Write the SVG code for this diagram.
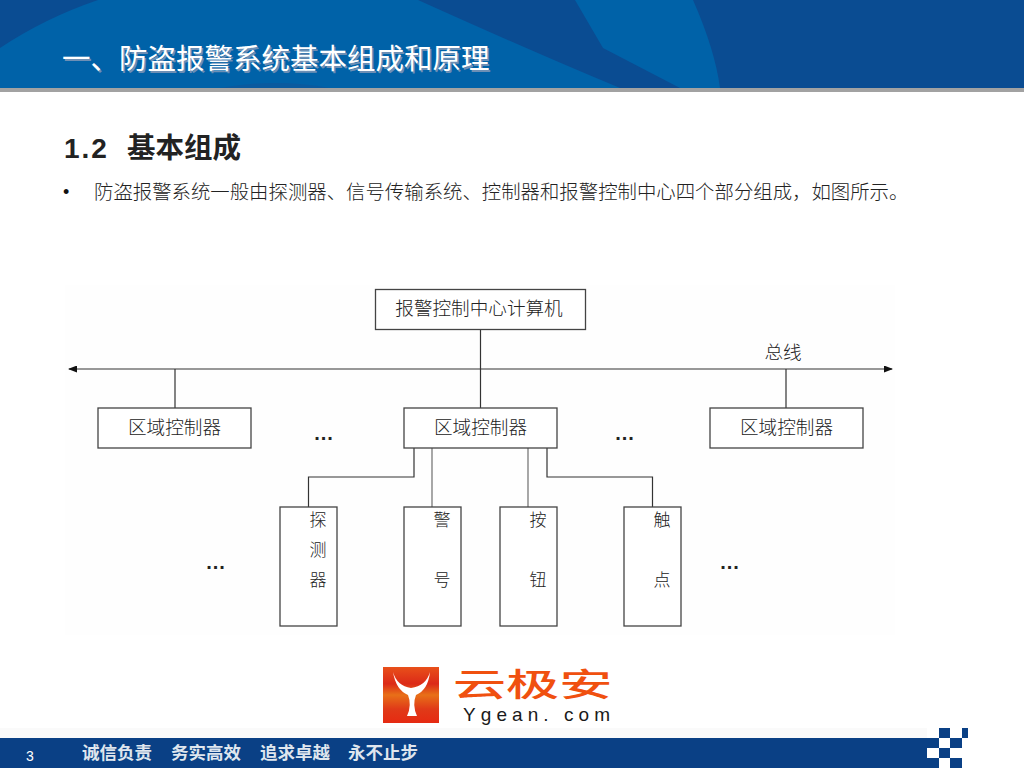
<svg xmlns="http://www.w3.org/2000/svg" width="1024" height="768" viewBox="0 0 1024 768">
<defs>
<linearGradient id="logo" x1="0" y1="0" x2="0" y2="1"><stop offset="0" stop-color="#e8501a"/><stop offset="0.3" stop-color="#dc2a18"/><stop offset="0.5" stop-color="#e87018"/><stop offset="0.75" stop-color="#e03a18"/><stop offset="1" stop-color="#e62a12"/></linearGradient>
<marker id="ah" markerWidth="9" markerHeight="7" refX="8" refY="3.5" orient="auto-start-reverse" markerUnits="userSpaceOnUse"><path d="M0 0L9 3.5L0 7Z" fill="#111"/></marker>
</defs>
<style>
text{font-family:"Noto Sans CJK SC","Liberation Sans",sans-serif}
.box{fill:#fff;stroke:#444;stroke-width:1.3}
.lbl{font-size:18.6px;fill:#222;text-anchor:middle;font-weight:300}
.v{font-size:17px;fill:#222;text-anchor:middle;font-weight:300}
.dots{font-family:"Liberation Sans",sans-serif;font-size:20px;font-weight:700;fill:#222;letter-spacing:1px;text-anchor:middle}
.c{fill:none;stroke:#333;stroke-width:1.2}
.foot{font-size:17.5px;font-weight:700;fill:#dfe6ee}
.chk{fill:#0a4085}
</style>
<rect width="1024" height="768" fill="#fff"/>
<rect x="65" y="285" width="830" height="350" fill="#fefefe"/>
<g id="banner">
<rect width="1024" height="88" fill="#0a4c92"/>
<path d="M0 48Q45 18 98 0H418Q540 55 620 88H0Z" fill="#0062a8"/>
<path d="M575 0H693Q715 50 720 88H680L603 48Z" fill="#0062a8"/>
<path d="M220 88Q275 78 330 88Z" fill="#0a5a9f"/>
<rect y="88" width="1024" height="4" fill="#a2a2a2"/>
</g>
<text x="63.5" y="70.5" font-size="28.5" font-weight="400" fill="#6d8fb5">一、防盗报警系统基本组成和原理</text>
<text x="62" y="69" font-size="28.5" font-weight="400" fill="#fff">一、防盗报警系统基本组成和原理</text>
<text x="64" y="158" font-size="28" font-weight="700" fill="#222" style="font-family:'Liberation Sans',sans-serif" letter-spacing="2">1.2</text>
<text x="127" y="158" font-size="28.5" font-weight="700" fill="#222">基本组成</text>
<text x="63" y="198" font-size="18" fill="#111" style="font-family:'Liberation Sans',sans-serif">•</text>
<text x="94" y="199" font-size="19.4" font-weight="300" fill="#222">防盗报警系统一般由探测器、信号传输系统、控制器和报警控制中心四个部分组成&#xFF0C;如图所示。</text>
<g id="connectors">
<path class="c" d="M69 369H892" marker-start="url(#ah)" marker-end="url(#ah)"/>
<path class="c" d="M175 369V408M480.500 329V408M786 369V408"/>
<path class="c" d="M414 448V477H308.500V507M547 448V477H652.500V507"/>
<path class="c" stroke-opacity="0.7" d="M432 448V507M528 448V507"/>
</g>
<g id="center"><rect class="box" x="375.500" y="289.500" width="210" height="40"/><text class="lbl" x="479" y="315">报警控制中心计算机</text></g>
<g id="zone1"><rect class="box" x="98" y="408" width="153" height="40"/><text class="lbl" x="174.500" y="434">区域控制器</text></g>
<g id="zone2"><rect class="box" x="404" y="408" width="153" height="40"/><text class="lbl" x="480.500" y="434">区域控制器</text></g>
<g id="zone3"><rect class="box" x="710" y="408" width="153" height="40"/><text class="lbl" x="786.500" y="434">区域控制器</text></g>
<g id="bus-label"><text class="lbl" x="783" y="359">总线</text></g>
<g id="detector"><rect class="box" x="280" y="507" width="57" height="119"/><text class="v" x="318" y="526">探</text><text class="v" x="318" y="556">测</text><text class="v" x="318" y="586">器</text></g>
<g id="alarm"><rect class="box" x="404" y="507" width="57" height="119"/><text class="v" x="442" y="526">警</text><text class="v" x="442" y="586">号</text></g>
<g id="button"><rect class="box" x="500" y="507" width="57" height="119"/><text class="v" x="538" y="526">按</text><text class="v" x="538" y="586">钮</text></g>
<g id="contact"><rect class="box" x="624" y="507" width="57" height="119"/><text class="v" x="662" y="526">触</text><text class="v" x="662" y="586">点</text></g>
<text class="dots" x="324" y="440">...</text>
<text class="dots" x="625" y="440">...</text>
<text class="dots" x="216" y="569">...</text>
<text class="dots" x="730" y="569">...</text>
<g id="logo">
<rect x="383" y="667" width="56" height="56" fill="url(#logo)"/>
<path d="M393 672Q396 690 408 695Q412 705 407 716H417Q412 705 416 695Q428 690 430 672Q426 686 411 688Q397 686 393 672Z" fill="#fff"/>
<text transform="translate(453 696) scale(1.66 1)" font-size="32" font-weight="500" fill="#f0500f">云极安</text>
<text x="463" y="721" font-size="19" fill="#1a1a1a" style="font-family:'Liberation Sans',sans-serif" textLength="147">Ygean. com</text>
</g>
<g id="footer">
<rect y="728" width="927" height="10" fill="#fafafa"/>
<rect y="738" width="927" height="30" class="chk"/>
<rect x="939" y="728" width="11" height="10" class="chk"/><rect x="962" y="728" width="6" height="10" class="chk"/>
<rect x="927" y="738" width="12" height="10" class="chk"/><rect x="950" y="738" width="12" height="10" class="chk"/>
<rect x="939" y="748" width="11" height="10" class="chk"/>
<rect x="927" y="758" width="12" height="10" class="chk"/><rect x="950" y="758" width="12" height="10" class="chk"/>
<text x="26" y="761" font-size="14" fill="#fff" style="font-family:'Liberation Sans',sans-serif">3</text>
<text class="foot" x="82" y="759">诚信负责</text>
<text class="foot" x="171" y="759">务实高效</text>
<text class="foot" x="260" y="759">追求卓越</text>
<text class="foot" x="348" y="759">永不止步</text>
</g>
</svg>
